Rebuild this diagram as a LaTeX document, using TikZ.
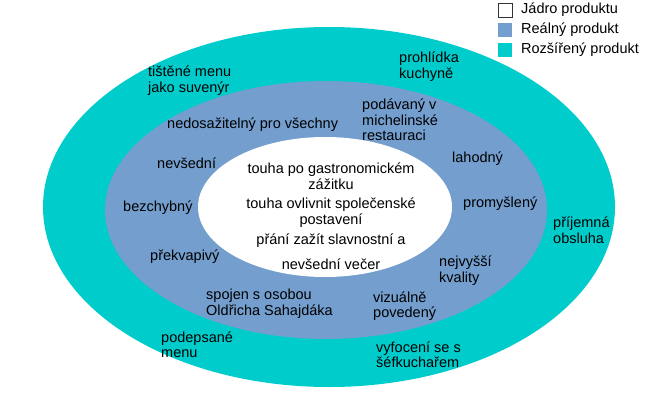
\documentclass[tikz,border=0pt]{standalone}
\usepackage{fontspec}
\setmainfont{Liberation Sans}
\definecolor{tealc}{RGB}{0,204,204}
\definecolor{bluec}{RGB}{115,158,206}
\begin{document}
\begin{tikzpicture}[x=1pt,y=-1pt,
  lbl/.style={inner sep=0pt, anchor=west, align=left, font=\fontsize{14.5}{15.5}\selectfont},
  ctr/.style={inner sep=0pt, align=center, font=\fontsize{14.5}{15.5}\selectfont},
  key/.style={minimum size=14pt, inner sep=0pt, anchor=north west}]
\useasboundingbox (0,0) rectangle (668,401);
\fill[tealc] (329,207) ellipse [x radius=286pt, y radius=180pt];
\fill[bluec] (326,210) ellipse [x radius=221pt, y radius=129pt];
\fill[white] (325,207) ellipse [x radius=127pt, y radius=70pt];
% core
\node[ctr] (c1) at (331,176) {touha po gastronomickém\\zážitku};
\node[ctr] (c2) at (331,212.5) {touha ovlivnit společenské\\postavení};
\node[ctr] (c3) at (331,241) {přání zažít slavnostní a};
\node[ctr] (c4) at (331,264) {nevšední večer};
% real
\node[lbl] (r1) at (167,125) {nedosažitelný pro všechny};
\node[lbl] (r2) at (362,120) {podávaný v\\michelinské\\restauraci};
\node[lbl] (r3) at (452,159) {lahodný};
\node[lbl] (r4) at (157,163) {nevšední};
\node[lbl] (r5) at (123,208) {bezchybný};
\node[lbl] (r6) at (463,204) {promyšlený};
\node[lbl] (r7) at (150,257) {překvapivý};
\node[lbl] (r8) at (439,270.5) {nejvyšší\\kvality};
\node[lbl] (r9) at (206,303.5) {spojen s osobou\\Oldřicha Sahajdáka};
\node[lbl] (r10) at (373,306) {vizuálně\\povedený};
% extended
\node[lbl] (e1) at (148,80.5) {tištěné menu\\jako suvenýr};
\node[lbl] (e2) at (399,66.5) {prohlídka\\kuchyně};
\node[lbl] (e3) at (553,230) {příjemná\\obsluha};
\node[lbl] (e4) at (161,344.5) {podepsané\\menu};
\node[lbl] (e5) at (376,354.5) {vyfocení se s\\šéfkuchařem};
% legend
\node[key, draw=black!80, fill=white, line width=0.8pt] (k1) at (498,3) {};
\node[key, fill=bluec] (k2) at (498,23) {};
\node[key, fill=tealc] (k3) at (498,43) {};
\node[lbl] (t1) at (521,10) {Jádro produktu};
\node[lbl] (t2) at (521,30) {Reálný produkt};
\node[lbl] (t3) at (521,50) {Rozšířený produkt};
\end{tikzpicture}
\end{document}
